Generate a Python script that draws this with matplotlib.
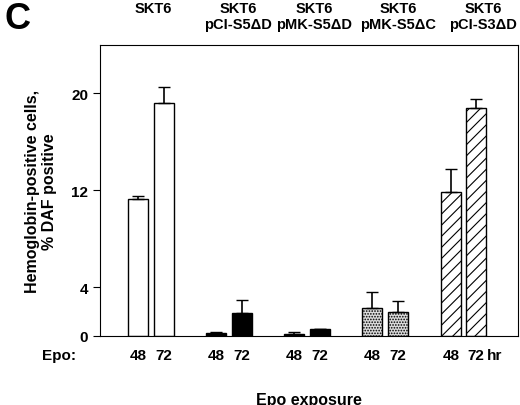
import matplotlib
matplotlib.use("Agg")
import matplotlib.pyplot as plt

groups = ["SKT6", "SKT6\npCI-S5\u0394D", "SKT6\npMK-S5\u0394D", "SKT6\npMK-S5\u0394C", "SKT6\npCI-S3\u0394D"]
times = ["48", "72"]
means = [[11.3, 19.2], [0.25, 1.9], [0.2, 0.55], [2.3, 2.0], [11.9, 18.8]]
errs = [[0.2, 1.3], [0.05, 1.1], [0.15, 0.05], [1.3, 0.9], [1.9, 0.7]]

# layout (pixel-like x units)
centers = [[138, 164], [216, 242], [294, 320], [372, 398], [451, 476]]
header_x = [153, 238, 314, 398, 483]
styles = [dict(color="white", hatch=None), dict(color="black", hatch=None),
          dict(color="black", hatch=None), dict(color="#dcdcdc", hatch="......"),
          dict(color="white", hatch="///")]

plt.rcParams["font.family"] = ["Liberation Sans", "DejaVu Sans"]
plt.rcParams["hatch.linewidth"] = 0.8
fig = plt.figure(figsize=(5.2, 4.06), dpi=100)
ax = fig.add_axes([0.192, 0.170, 0.804, 0.717])
for g in range(len(groups)):
    ax.bar(centers[g], means[g], width=20, color=styles[g]["color"],
           hatch=styles[g]["hatch"], edgecolor="black", linewidth=1)
    ax.errorbar(centers[g], means[g], yerr=[[0, 0], errs[g]],
                fmt="none", ecolor="black", capsize=4, elinewidth=1.2)
    fig.text(header_x[g] / 520, 1 - 2 / 406, groups[g], ha="center", va="top",
             fontsize=10.5, fontweight="bold", linespacing=1.15)
    for c, t in zip(centers[g], times):
        ax.text(c, -1.0, t, ha="center", va="top", fontsize=11, fontweight="bold")
ax.text(487, -1.0, "hr", ha="left", va="top", fontsize=11, fontweight="bold")
ax.text(42, -1.0, "Epo:", ha="left", va="top", fontsize=11, fontweight="bold")
ax.set_xlim(100, 518)
ax.set_ylim(0, 24.0)
ax.set_xticks([])
ax.set_yticks([0, 4, 12, 20])
for lbl in ax.get_yticklabels():
    lbl.set_fontweight("bold")
ax.tick_params(axis="y", direction="out", length=5, labelsize=11)
ax.set_ylabel("Hemoglobin-positive cells,\n% DAF positive", fontsize=11.5,
              fontweight="bold", labelpad=10)
ax.set_xlabel("Epo exposure", fontsize=11.5, fontweight="bold", labelpad=40)
fig.text(0.008, 0.995, "C", fontsize=26, fontweight="bold", va="top")
fig.savefig("out.png", dpi=100)
